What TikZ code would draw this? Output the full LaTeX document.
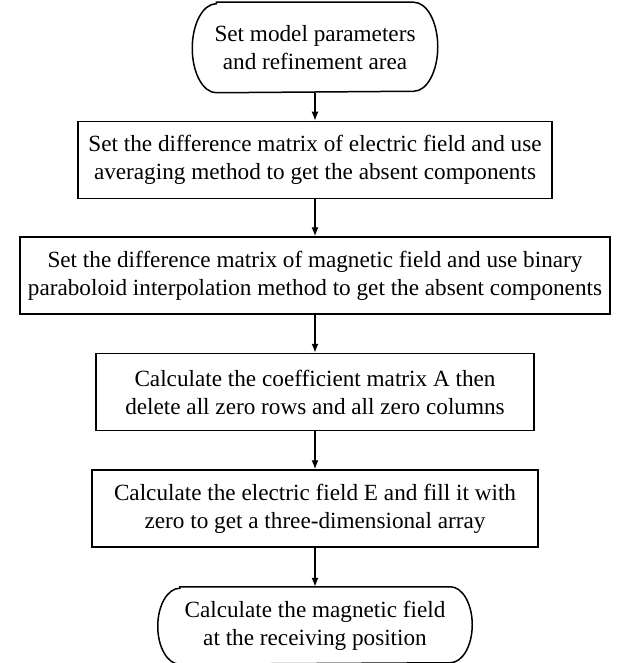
\documentclass[tikz,border=0pt]{standalone}
\usepackage{fontspec}
\setmainfont{Liberation Serif}
\usepackage{tikz}
\usetikzlibrary{positioning,arrows.meta}

\begin{document}
\begin{tikzpicture}[
  x=1pt,y=1pt,
  line width=1.5pt,
  every node/.style={align=center,inner sep=2pt,font=\fontsize{23.2}{28}\selectfont},
  terminal/.style={rectangle,minimum height=#1},
  stepbox/.style={rectangle,draw,minimum height=77pt},
  flow/.style={-{Latex[length=9pt,width=7pt]},line width=1.3pt}]

  \useasboundingbox (0,0) rectangle (624,-663);

  % nodes, top to bottom
  \node[terminal=89pt,minimum width=244pt] (start) at (315,-47.5)
    {Set model parameters\\and refinement area};
  \node[stepbox,minimum width=474pt,below=28pt of start] (efield)
    {Set the difference matrix of electric field and use\\averaging method to get the absent components};
  \node[stepbox,minimum width=590pt,below=37pt of efield] (hfield)
    {Set the difference matrix of magnetic field and use binary\\paraboloid interpolation method to get the absent components};
  \node[stepbox,minimum width=438pt,below=38pt of hfield] (coef)
    {Calculate the coefficient matrix A then\\delete all zero rows and all zero columns};
  \node[stepbox,minimum width=446pt,below=38pt of coef] (solve)
    {Calculate the electric field E and fill it with\\zero to get a three-dimensional array};
  \node[terminal=76pt,minimum width=313pt,below=39pt of solve] (stop)
    {Calculate the magnetic field\\at the receiving position};

  % rounded ends of the two terminals
  \draw ([xshift=24pt]start.north west) -- ([xshift=-24pt]start.north east)
    arc[start angle=90,end angle=-90,x radius=24pt,y radius=44.5pt]
    -- ([xshift=24pt]start.south west)
    arc[start angle=270,end angle=90,x radius=24pt,y radius=44.5pt] -- cycle;
  \draw ([xshift=22pt]stop.north west) -- ([xshift=-22pt]stop.north east)
    arc[start angle=90,end angle=-90,x radius=22pt,y radius=38pt]
    -- ([xshift=22pt]stop.south west)
    arc[start angle=270,end angle=90,x radius=22pt,y radius=38pt] -- cycle;

  % connectors
  \draw[flow] (start.south) -- (efield.north);
  \draw[flow] (efield.south) -- (hfield.north);
  \draw[flow] (hfield.south) -- (coef.north);
  \draw[flow] (coef.south) -- (solve.north);
  \draw[flow] (solve.south) -- (stop.north);
\end{tikzpicture}
\end{document}
